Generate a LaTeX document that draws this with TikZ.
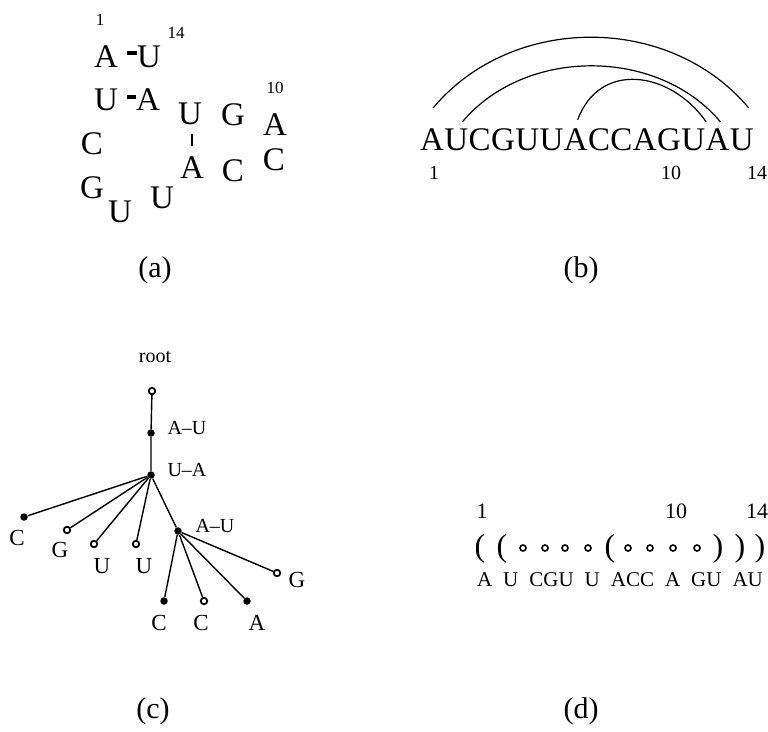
\documentclass[tikz,border=0pt]{standalone}
\usepackage{fontspec}
\setmainfont{Liberation Serif}
\usetikzlibrary{positioning}
\newcommand{\sgap}{\hspace{11pt}}
\tikzset{
  loopbase/.style={inner sep=0pt,text height=22pt,text depth=0pt,
    font=\fontsize{33}{36}\selectfont},
  loopnum/.style={inner sep=0pt,font=\fontsize{17}{20}\selectfont},
  seqbase/.style={inner sep=0pt,text height=21.8pt,text depth=0pt,
    font=\fontsize{33}{36}\selectfont},
  seqnum/.style={inner sep=0pt,font=\fontsize{20}{24}\selectfont},
  pairbond/.style={line width=3.5pt,shorten <=9pt},
  pairarc/.style={line width=1.2pt},
  panellabel/.style={inner sep=0pt,font=\fontsize{30}{34}\selectfont},
  fulldot/.style={circle,fill=black,inner sep=0pt,minimum size=7.5pt},
  opendot/.style={circle,draw=black,fill=white,line width=1.8pt,
    inner sep=0pt,minimum size=6.5pt},
  treeedge/.style={line width=1.4pt},
  treelbl/.style={inner sep=0pt,font=\fontsize{20}{24}\selectfont},
  leaflbl/.style={inner sep=0pt,text height=15pt,text depth=0pt,
    font=\fontsize{23}{26}\selectfont},
  bracket/.style={inner sep=0pt,font=\fontsize{32}{36}\selectfont},
  ringdot/.style={circle,draw=black,line width=1.6pt,inner sep=0pt,
    minimum size=6pt},
  dotseq/.style={inner sep=0pt,font=\fontsize{21}{24}\selectfont},
  dotnum/.style={inner sep=0pt,font=\fontsize{22}{26}\selectfont},
}

\begin{document}
\begin{tikzpicture}[x=1pt,y=-1pt]
  \useasboundingbox (0,0) rectangle (768,731);

  % (a) secondary structure
  \node[loopbase] (a1) at (106,56) {A};
  \node[loopbase] (a2) at (106,99) {U};
  \node[loopbase] (a3) at (92,143) {C};
  \node[loopbase] (a4) at (92,187) {G};
  \node[loopbase] (a5) at (120,211) {U};
  \node[loopbase] (a6) at (162,197) {U};
  \node[loopbase] (a7) at (192,167) {A};
  \node[loopbase] (a8) at (233,170) {C};
  \node[loopbase] (a9) at (274,159) {C};
  \node[loopbase] (a10) at (275,124) {A};
  \node[loopbase] (a11) at (233,114) {G};
  \node[loopbase] (a12) at (190,113) {U};
  \node[loopbase] (a13) at (148,99) {A};
  \node[loopbase] (a14) at (149,56) {U};
  \node[loopnum] (n1) at (100,20) {1};
  \node[loopnum] (n14) at (176,33) {14};
  \node[loopnum] (n10) at (275,88) {10};
  \draw[pairbond] ([yshift=3pt]a1.east) -- ([yshift=3pt]a14.west);
  \draw[pairbond] ([yshift=2pt]a2.east) -- ([yshift=2pt]a13.west);
  \draw[line width=2pt,shorten <=10pt,shorten >=10pt]
    (a12.south -| a7.north) -- (a7.north);
  \node[panellabel] (la) at (155,270) {(a)};

  % (b) arc diagram
  \foreach \l [count=\i] in {A,U,C,G,U,U,A,C,C,A,G,U,A,U}{
    \pgfmathtruncatemacro\prev{\i-1}
    \ifnum\i=1
      \node[seqbase,anchor=west] (b1) at (420,140) {\l};
    \else
      \node[seqbase,right=0pt of b\prev] (b\i) {\l};
    \fi
  }
  \draw[pairarc] ([xshift=1pt,yshift=21pt]b1.north)
    to[out=50,in=130,looseness=1.0] ([xshift=7pt,yshift=21pt]b14.north);
  \draw[pairarc] ([xshift=6pt,yshift=7pt]b2.north)
    to[out=50,in=130,looseness=0.97] ([xshift=3pt,yshift=7pt]b13.north);
  \draw[pairarc] ([xshift=2pt,yshift=9pt]b7.north)
    to[out=70,in=125,looseness=1.25] ([xshift=13pt,yshift=7pt]b12.north);
  \node[seqnum] (m1) at (434,173) {1};
  \node[seqnum] (m10) at (671,173) {10};
  \node[seqnum] (m14) at (757,173) {14};
  \node[panellabel] (lb) at (581,270) {(b)};

  % (c) tree
  \node[treelbl] (rootlbl) at (155,357) {root};
  \node[opendot] (root) at (152,391) {};
  \node[fulldot] (au1) at (151,433) {};
  \node[fulldot] (ua) at (151,475) {};
  \node[fulldot] (c3) at (24,517) {};
  \node[opendot] (g4) at (67,530) {};
  \node[opendot] (u5) at (94,544) {};
  \node[opendot] (u6) at (136,544) {};
  \node[fulldot] (au7) at (178,531) {};
  \node[fulldot] (c8) at (164,601) {};
  \node[opendot] (c9) at (204,601) {};
  \node[fulldot] (a10) at (247,601) {};
  \node[opendot] (g11) at (277,573) {};
  \draw[treeedge] (root) -- (au1) -- (ua);
  \foreach \n in {c3,g4,u5,u6,au7}
    \draw[treeedge] (ua) -- (\n);
  \foreach \n in {c8,c9,a10,g11}
    \draw[treeedge] (au7) -- (\n);
  \node[treelbl] (lau1) at (187,428) {A--U};
  \node[treelbl] (lua) at (187,470) {U--A};
  \node[treelbl] (lau7) at (215,526) {A--U};
  \node[leaflbl] (lc3) at (17,538) {C};
  \node[leaflbl] (lg4) at (60,550) {G};
  \node[leaflbl] (lu5) at (102,566) {U};
  \node[leaflbl] (lu6) at (144,566) {U};
  \node[leaflbl] (lc8) at (159,623) {C};
  \node[leaflbl] (lc9) at (201,623) {C};
  \node[leaflbl] (la10) at (257,623) {A};
  \node[leaflbl] (lg11) at (297,580) {G};
  \node[panellabel] (lc) at (153,711) {(c)};

  % (d) bracket notation
  \node[dotnum] (k1) at (482,511) {1};
  \node[dotnum] (k10) at (676,511) {10};
  \node[dotnum] (k14) at (757,511) {14};
  \foreach \x/\s in {480/{(},502/{(},610/{(},718/{)},740/{)},760/{)}}
    \node[bracket] (p\x) at (\x,549) {\s};
  \foreach \x in {523,545,565,588,628,650,673,697}
    \node[ringdot] (d\x) at (\x,548) {};
  \node[dotseq] (dseq) at (620,580)
    {A\sgap U\sgap CGU\sgap U\sgap ACC\sgap A\sgap GU\sgap AU};
  \node[panellabel] (ld) at (581,711) {(d)};
\end{tikzpicture}
\end{document}
